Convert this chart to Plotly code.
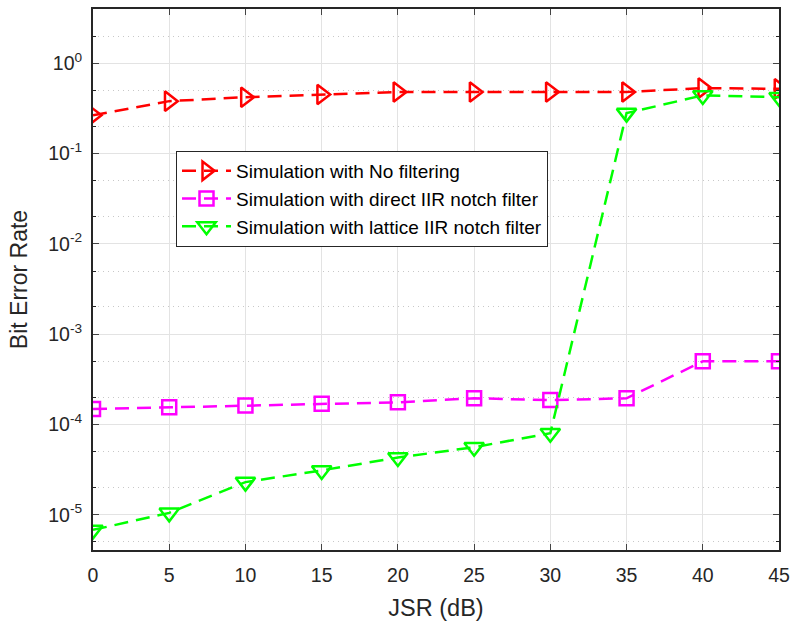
import plotly.graph_objects as go

jsr = [0, 5, 10, 15, 20, 25, 30, 35, 40, 45]
ber_none = [0.265, 0.38, 0.42, 0.45, 0.48, 0.48, 0.48, 0.48, 0.53, 0.52]
ber_direct = [1.48e-4, 1.55e-4, 1.62e-4, 1.7e-4, 1.76e-4, 1.95e-4, 1.86e-4, 1.95e-4, 5.0e-4, 5.0e-4]
ber_lattice = [6.8e-6, 1.05e-5, 2.3e-5, 3.1e-5, 4.3e-5, 5.6e-5, 8.0e-5, 0.28, 0.44, 0.42]

names = ["Simulation with No filtering",
         "Simulation with direct IIR notch filter",
         "Simulation with lattice IIR notch filter"]
colors = ["#FF0000", "#FF00FF", "#00FF00"]
symbols = ["triangle-right-open", "square-open", "triangle-down-open"]
sizes = [17, 14, 17]

ytick_vals = [1e-5, 1e-4, 1e-3, 1e-2, 1e-1, 1e0]
ytick_text = ["10<sup>-5</sup>", "10<sup>-4</sup>", "10<sup>-3</sup>",
              "10<sup>-2</sup>", "10<sup>-1</sup>", "10<sup>0</sup>"]

fig = go.Figure()
for name, ys, c, s, sz in zip(names, [ber_none, ber_direct, ber_lattice], colors, symbols, sizes):
    fig.add_trace(go.Scatter(
        x=jsr, y=ys, name=name, mode="lines+markers",
        line=dict(color=c, width=2.5, dash="14px,8px"),
        marker=dict(symbol=s, size=sz, color=c, line=dict(color=c, width=2.5)),
    ))

font = "Liberation Sans, Arial, sans-serif"
fig.update_layout(
    width=794, height=621,
    margin=dict(l=93, r=15, t=9, b=71, autoexpand=False),
    paper_bgcolor="white", plot_bgcolor="white",
    font=dict(family=font, size=19, color="#262626"),
    showlegend=True,
    legend=dict(x=0.121, y=0.7375, xanchor="left", yanchor="top",
                bgcolor="white", bordercolor="#262626", borderwidth=1,
                font=dict(family=font, size=19, color="#000000"),
                tracegroupgap=0, itemwidth=49),
    xaxis=dict(
        range=[0, 45], tickvals=jsr, ticks="inside", ticklen=6,
        showline=True, linecolor="#262626", linewidth=2, mirror="ticks",
        showgrid=True, gridcolor="#E3E3E3", gridwidth=1, zeroline=False,
        automargin=False, ticklabelstandoff=7, ticklabeloverflow="allow",
        title=dict(text="JSR (dB)", font=dict(size=23.5, color="#262626"), standoff=14),
        tickfont=dict(size=19.5, color="#262626"),
    ),
    yaxis=dict(
        type="log", range=[-5.39, 0.6],
        tickvals=ytick_vals, ticktext=ytick_text,
        ticks="inside", ticklen=6,
        showline=True, linecolor="#262626", linewidth=2, mirror="ticks",
        showgrid=True, gridcolor="#E3E3E3", gridwidth=1, zeroline=False,
        automargin=False, ticklabelstandoff=5,
        minor=dict(ticks="inside", ticklen=3, showgrid=True, gridcolor="#C8C8C8",
                   griddash="1px,4px", gridwidth=1, tickcolor="#262626"),
        title=dict(text="Bit Error Rate", font=dict(size=23, color="#262626"), standoff=14),
        tickfont=dict(size=19.5, color="#262626"),
    ),
)

fig.write_html("out.html", config={"displayModeBar": False},
               post_script="document.body.style.margin='0px';")
